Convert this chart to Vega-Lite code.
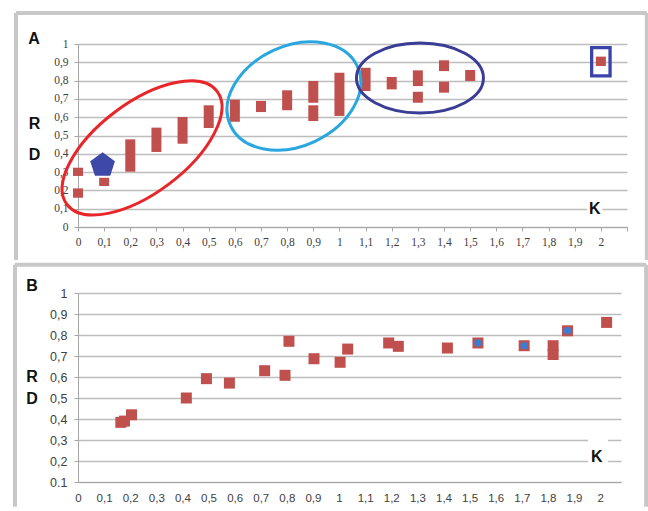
{
  "$schema": "https://vega.github.io/schema/vega-lite/v6.json",
  "background": "white",
  "padding": {"left": 12, "top": 10, "right": 1, "bottom": 2},
  "spacing": 0,
  "config": {
    "view": {"stroke": null},
    "scale": {"continuousPadding": 0},
    "axis": {"labelColor": "#404040", "domainColor": "#A6A6A6", "tickColor": "#A6A6A6", "gridColor": "#BDBDBD", "gridWidth": 1.5, "labelOverlap": false, "labelFlush": false, "tickCount": 40}
  },
  "vconcat": [
    {
      "width": 549,
      "height": 183,
      "layer": [
        {
          "data": {"values": [{"v": 0}]},
          "mark": {"type": "rule", "color": "#C8C8C8", "strokeWidth": 4},
          "encoding": {
            "x": {"datum": -0.2371, "type": "quantitative", "title": null},
            "x2": {"datum": 2.1759},
            "y": {"datum": 1.1694, "type": "quantitative", "title": null}
          }
        },
        {
          "data": {"values": [{"v": 0}]},
          "mark": {"type": "rule", "color": "#C8C8C8", "strokeWidth": 4},
          "encoding": {
            "x": {"datum": -0.2371, "type": "quantitative", "title": null},
            "y": {"datum": 1.1694, "type": "quantitative", "title": null},
            "y2": {"datum": -0.1803}
          }
        },
        {
          "data": {"values": [{"v": 0}]},
          "mark": {"type": "rule", "color": "#C8C8C8", "strokeWidth": 4},
          "encoding": {
            "x": {"datum": 2.1759, "type": "quantitative", "title": null},
            "y": {"datum": 1.1694, "type": "quantitative", "title": null},
            "y2": {"datum": -0.1803}
          }
        },
        {
          "data": {"values": [
            {"x": 0, "lo": 0.279, "hi": 0.324},
            {"x": 0, "lo": 0.160, "hi": 0.211},
            {"x": 0.1, "lo": 0.224, "hi": 0.269},
            {"x": 0.2, "lo": 0.302, "hi": 0.479},
            {"x": 0.3, "lo": 0.410, "hi": 0.543},
            {"x": 0.4, "lo": 0.455, "hi": 0.601},
            {"x": 0.5, "lo": 0.541, "hi": 0.665},
            {"x": 0.6, "lo": 0.575, "hi": 0.696},
            {"x": 0.7, "lo": 0.628, "hi": 0.689},
            {"x": 0.8, "lo": 0.638, "hi": 0.747},
            {"x": 0.9, "lo": 0.679, "hi": 0.798},
            {"x": 0.9, "lo": 0.579, "hi": 0.665},
            {"x": 1.0, "lo": 0.607, "hi": 0.843},
            {"x": 1.1, "lo": 0.743, "hi": 0.870},
            {"x": 1.2, "lo": 0.752, "hi": 0.820},
            {"x": 1.3, "lo": 0.770, "hi": 0.856},
            {"x": 1.3, "lo": 0.679, "hi": 0.739},
            {"x": 1.4, "lo": 0.852, "hi": 0.911},
            {"x": 1.4, "lo": 0.734, "hi": 0.794},
            {"x": 1.5, "lo": 0.798, "hi": 0.858},
            {"x": 2.0, "lo": 0.880, "hi": 0.931}
          ]},
          "mark": {"type": "bar", "color": "#C0504D", "size": 10},
          "encoding": {
            "x": {"field": "x", "type": "quantitative", "title": null,
              "scale": {"domain": [0, 2.1], "nice": false, "zero": false, "padding": 0},
              "axis": {"values": [0,0.1,0.2,0.3,0.4,0.5,0.6,0.7,0.8,0.9,1,1.1,1.2,1.3,1.4,1.5,1.6,1.7,1.8,1.9,2,2.1], "tickCount": 40,
                "grid": false, "tickSize": 4, "labelPadding": 5, "labelFont": "Liberation Serif", "labelFontSize": 11.5,
                "labelExpr": "datum.value > 2.05 ? '' : replace(format(datum.value, '~g'), '.', ',')"}},
            "y": {"field": "lo", "type": "quantitative", "title": null,
              "scale": {"domain": [0, 1], "nice": false, "zero": false, "padding": 0},
              "axis": {"values": [0,0.1,0.2,0.3,0.4,0.5,0.6,0.7,0.8,0.9,1], "tickCount": 40,
                "grid": true, "tickSize": 4, "labelPadding": 6, "labelFont": "Liberation Serif", "labelFontSize": 11.5,
                "labelExpr": "replace(format(datum.value, '~g'), '.', ',')"}},
            "y2": {"field": "hi"}
          }
        },
        {
          "data": {"values": [{"x": 0.094, "y": 0.338}]},
          "mark": {"type": "point", "filled": true, "color": "#3E48A6", "opacity": 1, "size": 676,
            "shape": "M 0 -1 L 0.951 -0.309 L 0.588 0.809 L -0.588 0.809 L -0.951 -0.309 Z"},
          "encoding": {
            "x": {"field": "x", "type": "quantitative", "title": null},
            "y": {"field": "y", "type": "quantitative", "title": null}
          }
        },
        {
          "data": {"values": [{"x": 0.245, "y": 0.432}]},
          "mark": {"type": "point", "filled": false, "stroke": "#E8262A", "strokeWidth": 3, "opacity": 1, "size": 35344, "angle": -37,
            "shape": "M 1 0 C 1 0.2645 0.5523 0.479 0 0.479 C -0.5523 0.479 -1 0.2645 -1 0 C -1 -0.2645 -0.5523 -0.479 0 -0.479 C 0.5523 -0.479 1 -0.2645 1 0 Z"},
          "encoding": {
            "x": {"field": "x", "type": "quantitative", "title": null},
            "y": {"field": "y", "type": "quantitative", "title": null}
          }
        },
        {
          "data": {"values": [{"x": 0.826, "y": 0.716}]},
          "mark": {"type": "point", "filled": false, "stroke": "#2AA7DF", "strokeWidth": 3, "opacity": 1, "size": 19600, "angle": -25,
            "shape": "M 1 0 C 1 0.3943 0.5523 0.714 0 0.714 C -0.5523 0.714 -1 0.3943 -1 0 C -1 -0.3943 -0.5523 -0.714 0 -0.714 C 0.5523 -0.714 1 -0.3943 1 0 Z"},
          "encoding": {
            "x": {"field": "x", "type": "quantitative", "title": null},
            "y": {"field": "y", "type": "quantitative", "title": null}
          }
        },
        {
          "data": {"values": [{"x": 1.308, "y": 0.814}]},
          "mark": {"type": "point", "filled": false, "stroke": "#3A3D96", "strokeWidth": 3, "opacity": 1, "size": 16129, "angle": 0,
            "shape": "M 1 0 C 1 0.3043 0.5523 0.551 0 0.551 C -0.5523 0.551 -1 0.3043 -1 0 C -1 -0.3043 -0.5523 -0.551 0 -0.551 C 0.5523 -0.551 1 -0.3043 1 0 Z"},
          "encoding": {
            "x": {"field": "x", "type": "quantitative", "title": null},
            "y": {"field": "y", "type": "quantitative", "title": null}
          }
        },
        {
          "data": {"values": [{"x": 2.0, "y": 0.903}]},
          "mark": {"type": "point", "filled": false, "stroke": "#3A44A8", "strokeWidth": 3.3, "opacity": 1, "size": 807,
            "shape": "M -0.648 -1 L 0.648 -1 L 0.648 1 L -0.648 1 Z"},
          "encoding": {
            "x": {"field": "x", "type": "quantitative", "title": null},
            "y": {"field": "y", "type": "quantitative", "title": null}
          }
        },
        {
          "data": {"values": [{"x": 1.977, "y": 0.101}]},
          "mark": {"type": "point", "filled": true, "color": "white", "opacity": 1, "shape": "square", "size": 225},
          "encoding": {
            "x": {"field": "x", "type": "quantitative", "title": null},
            "y": {"field": "y", "type": "quantitative", "title": null}
          }
        },
        {
          "data": {"values": [
            {"x": -0.168, "y": 1.027, "label": "A"},
            {"x": -0.166, "y": 0.563, "label": "R"},
            {"x": -0.166, "y": 0.393, "label": "D"},
            {"x": 1.977, "y": 0.101, "label": "K"}
          ]},
          "mark": {"type": "text", "font": "Liberation Sans", "fontWeight": "bold", "fontSize": 16, "color": "#111111", "align": "center", "baseline": "middle"},
          "encoding": {
            "x": {"field": "x", "type": "quantitative", "title": null},
            "y": {"field": "y", "type": "quantitative", "title": null},
            "text": {"field": "label"}
          }
        }
      ]
    },
    {
      "width": 543,
      "height": 189,
      "layer": [
        {
          "data": {"values": [{"v": 0}]},
          "mark": {"type": "rule", "color": "#C8C8C8", "strokeWidth": 4},
          "encoding": {
            "x": {"datum": -0.2414, "type": "quantitative", "title": null},
            "x2": {"datum": 2.1762},
            "y": {"datum": 1.1348, "type": "quantitative", "title": null}
          }
        },
        {
          "data": {"values": [{"v": 0}]},
          "mark": {"type": "rule", "color": "#C8C8C8", "strokeWidth": 4},
          "encoding": {
            "x": {"datum": -0.2414, "type": "quantitative", "title": null},
            "y": {"datum": 1.1348, "type": "quantitative", "title": null},
            "y2": {"datum": -0.0176}
          }
        },
        {
          "data": {"values": [{"v": 0}]},
          "mark": {"type": "rule", "color": "#C8C8C8", "strokeWidth": 4},
          "encoding": {
            "x": {"datum": 2.1762, "type": "quantitative", "title": null},
            "y": {"datum": 1.1348, "type": "quantitative", "title": null},
            "y2": {"datum": -0.0176}
          }
        },
        {
          "data": {"values": [
            {"x": 0.164, "y": 0.384}, {"x": 0.178, "y": 0.39}, {"x": 0.205, "y": 0.42},
            {"x": 0.415, "y": 0.50}, {"x": 0.492, "y": 0.592}, {"x": 0.58, "y": 0.571},
            {"x": 0.715, "y": 0.63}, {"x": 0.793, "y": 0.608}, {"x": 0.808, "y": 0.77},
            {"x": 0.904, "y": 0.687}, {"x": 1.004, "y": 0.67}, {"x": 1.033, "y": 0.733},
            {"x": 1.19, "y": 0.762}, {"x": 1.227, "y": 0.746}, {"x": 1.415, "y": 0.738},
            {"x": 1.532, "y": 0.762}, {"x": 1.709, "y": 0.749}, {"x": 1.82, "y": 0.749},
            {"x": 1.82, "y": 0.707}, {"x": 1.875, "y": 0.82}, {"x": 2.025, "y": 0.86}
          ]},
          "mark": {"type": "point", "filled": true, "shape": "square", "size": 121, "color": "#C0504D", "opacity": 1},
          "encoding": {
            "x": {"field": "x", "type": "quantitative", "title": null,
              "scale": {"domain": [0, 2.08], "nice": false, "zero": false, "padding": 0},
              "axis": {"values": [0,0.1,0.2,0.3,0.4,0.5,0.6,0.7,0.8,0.9,1,1.1,1.2,1.3,1.4,1.5,1.6,1.7,1.8,1.9,2], "tickCount": 40,
                "grid": false, "ticks": false, "labelPadding": 10, "labelFont": "Liberation Sans", "labelFontSize": 11.5,
                "labelExpr": "replace(format(datum.value, '~g'), '.', ',')"}},
            "y": {"field": "y", "type": "quantitative", "title": null,
              "scale": {"domain": [0.1, 1], "nice": false, "zero": false, "padding": 0},
              "axis": {"values": [0.1,0.2,0.3,0.4,0.5,0.6,0.7,0.8,0.9,1], "tickCount": 40,
                "grid": true, "tickSize": 4, "labelPadding": 7, "labelFont": "Liberation Sans", "labelFontSize": 12.5,
                "labelExpr": "datum.value < 0.15 ? '0.1' : replace(format(datum.value, '~g'), '.', ',')"}}
          }
        },
        {
          "data": {"values": [{"x": 1.532, "y": 0.762}, {"x": 1.709, "y": 0.749}, {"x": 1.875, "y": 0.82}]},
          "mark": {"type": "point", "filled": true, "shape": "circle", "size": 55, "color": "#3D7DD0", "opacity": 1},
          "encoding": {
            "x": {"field": "x", "type": "quantitative", "title": null},
            "y": {"field": "y", "type": "quantitative", "title": null}
          }
        },
        {
          "data": {"values": [{"x": 1.992, "y": 0.2443}]},
          "mark": {"type": "point", "filled": true, "color": "white", "opacity": 1, "size": 784,
            "shape": "M -0.714 -1 L 0.714 -1 L 0.714 1 L -0.714 1 Z"},
          "encoding": {
            "x": {"field": "x", "type": "quantitative", "title": null},
            "y": {"field": "y", "type": "quantitative", "title": null}
          }
        },
        {
          "data": {"values": [
            {"x": -0.176, "y": 1.035, "label": "B"},
            {"x": -0.176, "y": 0.601, "label": "R"},
            {"x": -0.176, "y": 0.497, "label": "D"},
            {"x": 1.987, "y": 0.2167, "label": "K"}
          ]},
          "mark": {"type": "text", "font": "Liberation Sans", "fontWeight": "bold", "fontSize": 16, "color": "#111111", "align": "center", "baseline": "middle"},
          "encoding": {
            "x": {"field": "x", "type": "quantitative", "title": null},
            "y": {"field": "y", "type": "quantitative", "title": null},
            "text": {"field": "label"}
          }
        }
      ]
    }
  ]
}
